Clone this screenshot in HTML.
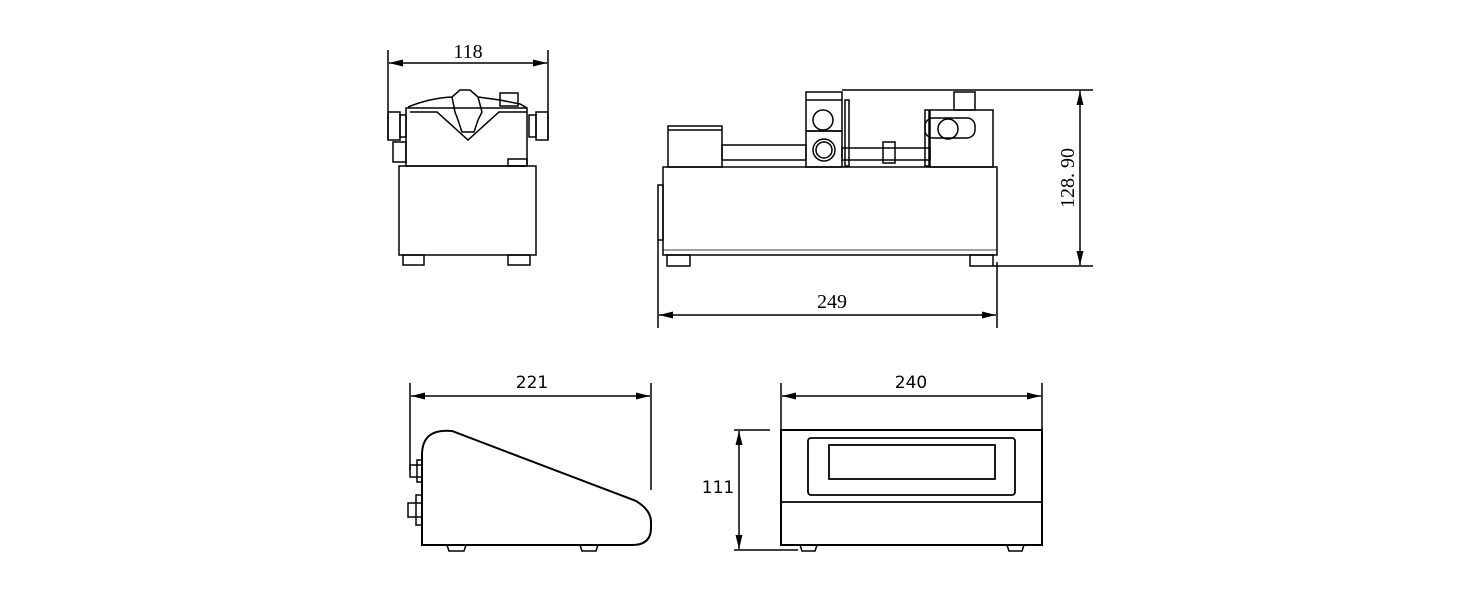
<!DOCTYPE html>
<html><head><style>body{margin:0;background:#fff}svg{display:block}</style></head><body>
<svg width="1480" height="602" viewBox="0 0 1480 602" xmlns="http://www.w3.org/2000/svg">
<defs><marker id="a" markerWidth="14" markerHeight="7" refX="14" refY="3.5" orient="auto-start-reverse" markerUnits="userSpaceOnUse"><path d="M0,0 L14,3.5 L0,7 Z" fill="#000"/></marker></defs>
<g fill="none" stroke="#000" stroke-width="1.5">
<!-- top-left view -->
<line x1="388" y1="50" x2="388" y2="140"/><line x1="548" y1="50" x2="548" y2="140"/>
<line x1="389" y1="63" x2="547" y2="63" marker-start="url(#a)" marker-end="url(#a)"/>
<rect x="399" y="166" width="137" height="89"/>
<rect x="406" y="108" width="121" height="58"/>
<path d="M408,107 Q430,98 452,97 L460,90 L470,90 L478,97 L500,100 L520,104 L527,108"/>
<path d="M410,112 L437,112 L468,140 L499,112 L527,112"/>
<path d="M452,97 L455,112 L458,120 L462,132 L474,132 L478,120 L482,112 L478,97"/>
<rect x="500" y="93" width="18" height="13"/>
<rect x="388" y="112" width="12" height="28"/><rect x="400" y="115" width="6" height="22"/>
<rect x="536" y="112" width="12" height="28"/><rect x="529" y="115" width="7" height="22"/>
<rect x="393" y="142" width="13" height="20"/>
<rect x="508" y="159" width="19" height="7"/>
<rect x="403" y="255" width="21" height="10"/><rect x="508" y="255" width="22" height="10"/>
<!-- top-right view -->
<rect x="663" y="167" width="334" height="88"/>
<line x1="663" y1="250" x2="997" y2="250" stroke-width="0.8"/>
<rect x="658" y="185" width="5" height="55"/>
<rect x="668" y="126" width="54" height="41"/><line x1="668" y1="130" x2="722" y2="130"/>
<rect x="722" y="145" width="84" height="15"/>
<rect x="842" y="148" width="88" height="12"/>
<rect x="883" y="142" width="12" height="21"/>
<rect x="806" y="131" width="36" height="36"/>
<circle cx="824" cy="150" r="11"/><circle cx="824" cy="150" r="8"/>
<rect x="806" y="92" width="36" height="39"/><line x1="806" y1="100" x2="842" y2="100"/>
<circle cx="823" cy="120" r="10"/>
<rect x="845" y="100" width="4" height="66"/>
<rect x="925" y="110" width="4" height="56"/>
<rect x="930" y="110" width="63" height="57"/>
<rect x="954" y="92" width="21" height="18"/>
<rect x="925" y="118" width="50" height="20" rx="8"/>
<circle cx="948" cy="129" r="10"/>
<rect x="667" y="255" width="23" height="11"/><rect x="970" y="255" width="23" height="11"/>
<line x1="842" y1="90" x2="1093" y2="90"/><line x1="993" y1="266" x2="1093" y2="266"/>
<line x1="1080" y1="91" x2="1080" y2="265" marker-start="url(#a)" marker-end="url(#a)"/>
<line x1="658" y1="240" x2="658" y2="328"/><line x1="997" y1="262" x2="997" y2="328"/>
<line x1="659" y1="315" x2="996" y2="315" marker-start="url(#a)" marker-end="url(#a)"/>
<!-- bottom-left view -->
<line x1="410" y1="383" x2="410" y2="470"/><line x1="651" y1="383" x2="651" y2="490"/>
<line x1="411" y1="396" x2="650" y2="396" marker-start="url(#a)" marker-end="url(#a)"/>
<path d="M422,545 L422,455 Q422,428 452,431 L636,501 Q651,510 651,522 L651,528 Q651,545 632,545 Z" stroke-width="2"/>
<path d="M447,545 L449,551 L464,551 L466,545 M580,545 L582,551 L596,551 L598,545"/>
<rect x="410" y="465" width="12" height="12"/><rect x="417" y="460" width="5" height="22"/>
<rect x="408" y="503" width="14" height="14"/><rect x="416" y="495" width="6" height="30"/>
<!-- bottom-right view -->
<rect x="781" y="430" width="261" height="115" stroke-width="2"/>
<line x1="781" y1="502" x2="1042" y2="502" stroke-width="1.8"/>
<rect x="808" y="438" width="207" height="57" rx="3" stroke-width="1.8"/>
<rect x="829" y="445" width="166" height="34" stroke-width="1.8"/>
<line x1="781" y1="383" x2="781" y2="430"/><line x1="1042" y1="383" x2="1042" y2="430"/>
<line x1="782" y1="396" x2="1041" y2="396" marker-start="url(#a)" marker-end="url(#a)"/>
<line x1="734" y1="430" x2="770" y2="430"/><line x1="734" y1="550" x2="798" y2="550"/>
<line x1="739" y1="431" x2="739" y2="549" marker-start="url(#a)" marker-end="url(#a)"/>
<path d="M800,545 L802,551 L815,551 L817,545 M1007,545 L1009,551 L1022,551 L1024,545"/>
</g>
<g font-family="'Liberation Serif',serif" font-size="20" text-anchor="middle" fill="#000">
<text x="468" y="58">118</text>
<text x="832" y="308">249</text>
<text transform="translate(1074,178) rotate(-90)">128. 90</text>
</g>
<g font-family="'DejaVu Sans','Liberation Sans',sans-serif" font-size="17" text-anchor="middle" fill="#000">
<text x="532" y="388">221</text>
<text x="911" y="388">240</text>
<text x="718" y="493">111</text>
</g>
</svg>
</body></html>
